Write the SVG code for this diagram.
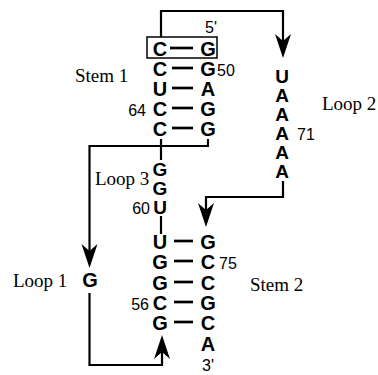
<svg xmlns="http://www.w3.org/2000/svg" width="378" height="375" viewBox="0 0 378 375">
<defs>
<style>
.b{font-family:"Liberation Sans",Arial,sans-serif;font-weight:bold;font-size:20px;fill:#000;text-anchor:middle}
.s{font-size:19px}
.n{font-family:"Liberation Sans",Arial,sans-serif;font-size:16px;fill:#000}
.e{text-anchor:end}
.l{font-family:"Liberation Serif","Times New Roman",serif;font-size:19px;fill:#000}
.w{fill:none;stroke:#000;stroke-width:2.2}
.p{stroke:#000;stroke-width:2.7}
</style>
<marker id="ah" viewBox="-12 -10 28 20" markerWidth="28" markerHeight="20" refX="0" refY="0" orient="auto" markerUnits="userSpaceOnUse">
<path d="M-10,-8 L14,0 L-10,8 L-3,0 Z" fill="#000"/>
</marker>
</defs>
<rect width="378" height="375" fill="#fff"/>
<g id="connectors">
<path class="w" d="M161,37 V11 H283 V44" marker-end="url(#ah)"/>
<path class="w" d="M208,139 V146 H89.5 V254" marker-end="url(#ah)"/>
<path class="w" d="M89.5,293 V365 H162 V349" marker-end="url(#ah)"/>
<path class="w" d="M161,139 V160"/>
<path class="w" d="M161,216 V234"/>
<path class="w" d="M283,181 V197 H206 V213" marker-end="url(#ah)"/>
<line class="p" x1="170" y1="48" x2="193" y2="48"/>
<line class="p" x1="172" y1="68" x2="193" y2="68"/>
<line class="p" x1="172" y1="88" x2="193" y2="88"/>
<line class="p" x1="172" y1="108" x2="193" y2="108"/>
<line class="p" x1="172" y1="128" x2="193" y2="128"/>
<line class="p" x1="174" y1="241" x2="193" y2="241"/>
<line class="p" x1="174" y1="261" x2="193" y2="261"/>
<line class="p" x1="174" y1="282" x2="193" y2="282"/>
<line class="p" x1="174" y1="302" x2="193" y2="302"/>
<line class="p" x1="174" y1="322" x2="193" y2="322"/>
</g>
<g id="stem1">
<rect x="147" y="37" width="70" height="21" fill="none" stroke="#000" stroke-width="1.5"/>
<text class="b" x="160" y="56">C</text><text class="b" x="208" y="56">G</text>
<text class="b" x="160" y="76">C</text><text class="b" x="208" y="76">G</text>
<text class="b" x="160" y="96">U</text><text class="b" x="208" y="96">A</text>
<text class="b" x="160" y="116">C</text><text class="b" x="208" y="116">G</text>
<text class="b" x="160" y="136">C</text><text class="b" x="208" y="136">G</text>
<text class="n" x="205" y="33">5'</text>
<text class="n" x="217" y="76">50</text>
<text class="n e" x="146" y="116">64</text>
<text class="l" x="75" y="82">Stem 1</text>
</g>
<g id="loop2">
<text class="b s" x="282" y="83">U</text>
<text class="b s" x="282" y="102">A</text>
<text class="b s" x="282" y="121">A</text>
<text class="b s" x="282" y="140">A</text>
<text class="b s" x="282" y="159">A</text>
<text class="b s" x="282" y="178">A</text>
<text class="n" x="297" y="140">71</text>
<text class="l" x="322" y="110">Loop 2</text>
</g>
<g id="loop3">
<text class="b s" x="160" y="176">G</text>
<text class="b s" x="160" y="195">G</text>
<text class="b s" x="160" y="214">U</text>
<text class="n e" x="150" y="214">60</text>
<text class="l" x="95" y="185">Loop 3</text>
</g>
<g id="loop1">
<text class="b" x="90" y="287">G</text>
<text class="l" x="13" y="287">Loop 1</text>
</g>
<g id="stem2">
<text class="b" x="160" y="249">U</text><text class="b" x="208" y="249">G</text>
<text class="b" x="160" y="269">G</text><text class="b" x="208" y="269">C</text>
<text class="b" x="160" y="290">G</text><text class="b" x="208" y="290">C</text>
<text class="b" x="160" y="310">C</text><text class="b" x="208" y="310">G</text>
<text class="b" x="160" y="330">G</text><text class="b" x="208" y="330">C</text>
<text class="b" x="208" y="351">A</text>
<text class="n" x="202" y="371">3'</text>
<text class="n" x="219" y="269">75</text>
<text class="n e" x="149" y="310">56</text>
<text class="l" x="250" y="291">Stem 2</text>
</g>
</svg>
